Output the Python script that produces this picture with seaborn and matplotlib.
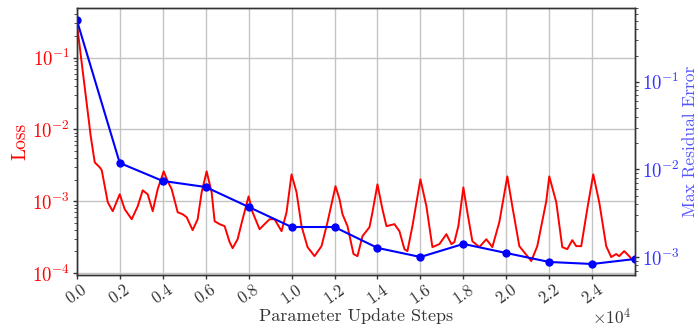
import numpy as np
import pandas as pd
import matplotlib
matplotlib.use("Agg")
import matplotlib.pyplot as plt
import matplotlib.ticker as mticker
import seaborn as sns

# Training loss, logged at irregular update steps
loss_steps = [0, 326, 651, 837, 1070, 1163, 1302, 1442, 1674, 2000, 2233, 2558, 2837,
              3070, 3302, 3535, 3767, 4047, 4233, 4419, 4698, 4930, 5116, 5395, 5628,
              5814, 6047, 6279, 6419, 6651, 6884, 7116, 7256, 7488, 7721, 8000, 8186,
              8512, 8744, 8977, 9209, 9535, 9767, 10000, 10233, 10465, 10744, 11070,
              11395, 11674, 12047, 12233, 12372, 12605, 12884, 13070, 13302, 13628,
              13767, 14000, 14233, 14419, 14791, 15023, 15256, 15395, 15628, 16000,
              16279, 16558, 16884, 17209, 17442, 17581, 17767, 18000, 18186, 18419,
              18744, 19070, 19349, 19674, 20047, 20279, 20605, 21163, 21442, 21860,
              22000, 22326, 22605, 22837, 23070, 23256, 23488, 23767, 24047, 24326,
              24651, 24884, 25116, 25256, 25488, 25721, 25953]
loss_values = [0.306, 0.0494, 0.0080, 0.00348, 0.00297, 0.0027, 0.00162, 0.00097,
               0.000727, 0.00125, 0.000774, 0.000562, 0.000852, 0.00142, 0.00125,
               0.000727, 0.00147, 0.00261, 0.0019, 0.00147, 0.000703, 0.000659, 0.0006,
               0.000396, 0.000562, 0.00133, 0.00261, 0.00133, 0.000527, 0.00048,
               0.00045, 0.00027, 0.000222, 0.000296, 0.000562, 0.00117, 0.000703,
               0.000408, 0.00048, 0.000562, 0.000562, 0.000383, 0.000703, 0.00237,
               0.00133, 0.00045, 0.00023, 0.000172, 0.000237, 0.000511, 0.00162,
               0.00107, 0.000659, 0.00045, 0.000184, 0.000172, 0.000327, 0.000435,
               0.000703, 0.00172, 0.000774, 0.00045, 0.00048, 0.000383, 0.000215,
               0.000202, 0.00045, 0.00202, 0.000852, 0.00023, 0.000253, 0.000348,
               0.000253, 0.00027, 0.00045, 0.00156, 0.000703, 0.000278, 0.00023,
               0.000296, 0.00023, 0.000511, 0.00222, 0.000852, 0.000237, 0.000147,
               0.000237, 0.001, 0.00222, 0.00097, 0.00023, 0.000215, 0.000287,
               0.000237, 0.000237, 0.000774, 0.00237, 0.00097, 0.000237, 0.000167,
               0.000184, 0.000172, 0.000202, 0.000172, 0.000142]

# Max residual error, evaluated every 2000 steps
eval_steps = [0, 2000, 4000, 6000, 8000, 10000, 12000, 14000, 16000, 18000, 20000,
              22000, 24000, 26000]
max_residual = [0.51, 0.01186, 0.00739, 0.0063, 0.00373, 0.0022, 0.0022, 0.00127,
                0.001, 0.00141, 0.00111, 0.000877, 0.000832, 0.000949]

x_ticks = [0, 2000, 4000, 6000, 8000, 10000, 12000, 14000, 16000, 18000, 20000,
           22000, 24000]
x_scale_exp = 4

sns.set_theme(style="whitegrid")
plt.rcParams.update({
    "font.family": "serif",
    "font.serif": ["cmr10"],
    "mathtext.fontset": "cm",
    "axes.formatter.use_mathtext": True,
    "axes.unicode_minus": False,
    "axes.edgecolor": "#333333",
    "axes.linewidth": 1.0,
    "grid.color": "#c4c4c4",
    "grid.linewidth": 1.0,
})

loss_df = pd.DataFrame({"step": loss_steps, "loss": loss_values})
err_df = pd.DataFrame({"step": eval_steps, "err": max_residual})

fig = plt.figure(figsize=(6.98, 3.29), dpi=100)
ax = fig.add_axes([0.110, 0.164, 0.800, 0.812])
ax2 = ax.twinx()

sns.lineplot(data=loss_df, x="step", y="loss", ax=ax, color="red", linewidth=1.4,
             sort=False)
sns.lineplot(data=err_df, x="step", y="err", ax=ax2, color="blue", linewidth=1.5,
             marker="o", markersize=6, markeredgewidth=0, sort=False)

ax.set_yscale("log")
ax2.set_yscale("log")
ax.set_xlim(0, 26000)
ax.set_ylim(9.38e-5, 0.494)
ax2.set_ylim(6.22e-4, 0.70)

# x ticks in units of 10^4 steps, with the multiplier written at the axis end
ax.set_xticks(x_ticks)
ax.xaxis.set_major_formatter(
    mticker.FuncFormatter(lambda v, _: f"{v / 10**x_scale_exp:.1f}"))
fig.text(0.905, 0.006, rf"$\times10^{{{x_scale_exp}}}$", ha="right", va="bottom",
         fontsize=12.5, color="#333333")

ax.tick_params(axis="x", labelsize=12, labelcolor="#333333", rotation=35,
               direction="out", length=3, width=1, color="#333333", bottom=True, pad=2)
ax.tick_params(axis="y", which="major", labelsize=13.5, labelcolor="red",
               direction="out", length=3, width=1, color="#333333", left=True, pad=2)
ax.tick_params(axis="y", which="minor", direction="out", length=2, width=0.6,
               color="#333333", left=True)
ax2.tick_params(axis="y", which="major", labelsize=13.5, labelcolor="#3333ff",
                direction="out", length=3, width=1, color="#333333", right=True, pad=2)
ax2.tick_params(axis="y", which="minor", direction="out", length=2, width=0.6,
                color="#333333", right=True)
for lab in ax.get_xticklabels():
    lab.set_ha("center")

ax.set_xlabel("Parameter Update Steps", fontsize=13, color="#333333", labelpad=1)
ax.set_ylabel("Loss", fontsize=14, color="red", labelpad=2)
ax2.set_ylabel("Max Residual Error", fontsize=12.5, color="#5555ff", labelpad=2)
ax.grid(True, which="major")
ax2.grid(False)

fig.savefig("out.png", dpi=100)
